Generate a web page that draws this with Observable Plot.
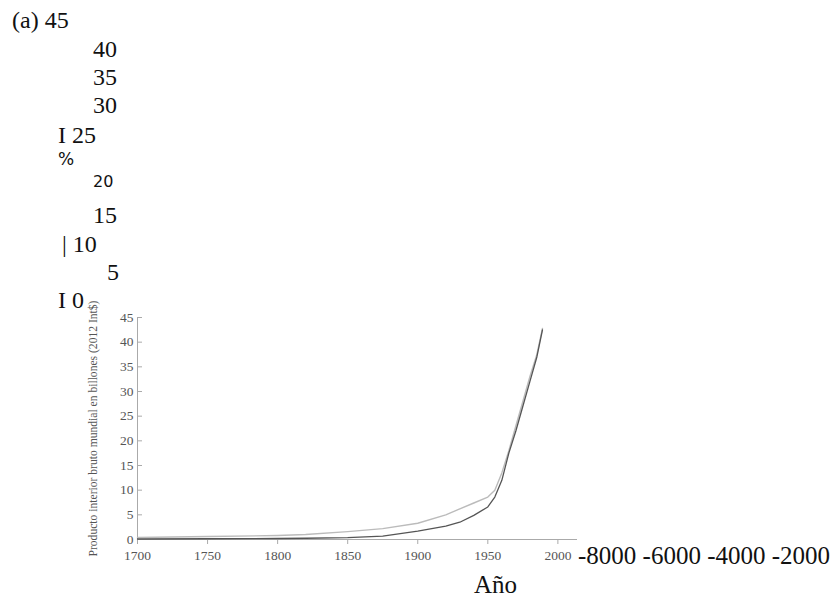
<!DOCTYPE html>
<html><head><meta charset="utf-8">
<script src="https://cdn.jsdelivr.net/npm/d3@7"></script>
<script src="https://cdn.jsdelivr.net/npm/@observablehq/plot@0.6"></script>
<style>
body{margin:0;background:#fff;}
#wrap{position:relative;width:835px;height:597px;}
.ov{position:absolute;color:#111;white-space:pre;line-height:1;}
</style></head><body><div id="wrap"></div>
<script>
// ---- data ----
const years    = [1700,1750,1800,1820,1850,1875,1900,1920,1930,1940,1950,1955,1960,1965,1970,1975,1980,1985,1989];
const darkGDP  = [0.1,0.15,0.2,0.25,0.4,0.7,1.7,2.7,3.5,4.9,6.6,8.6,12,17.5,22,27,32,37,42.5];
const lightGDP = [0.4,0.6,0.8,1.0,1.6,2.2,3.3,5.0,6.2,7.4,8.6,10,13.5,18,23,28,33,37.5,42.8];
const xTicks = [1700,1750,1800,1850,1900,1950,2000];
const yTicks = [0,5,10,15,20,25,30,35,40,45];
const yLabel = "Producto interior bruto mundial en billones (2012 Int$)";
const ghostLabels = ["(a) 45","40","35","30","I 25","%","20","15","| 10","5","I 0"];
const ghostXTicks = ["-8000","-6000","-4000","-2000"];
const xTitle = "Año";

// ---- layout of the overlaid page text: [left, baseline, fontSize, family] ----
const serif = '"Liberation Serif", serif', sans = '"DejaVu Sans", sans-serif';
const ghostLayout = [
  [12,28,24,serif],[93,57,24,serif],[93,85,24,serif],[93,113,24,serif],
  [58,143,24,serif],[58,165,17,sans],[93,188,16,sans],[93,223,24,serif],
  [62,252,24,serif],[107,280,24,serif],[58,308,24,serif]
];
const ghostXLayout = [578,564,25,serif];
const titleLayout = [474,593,25,serif];

const rows = years.map((year,i)=>({year, dark: darkGDP[i], light: lightGDP[i]}));

const chart = Plot.plot({
  width:835, height:597,
  marginLeft:137, marginRight:258, marginTop:317, marginBottom:58,
  x:{domain:[1700,2014]}, y:{domain:[0,45]},
  style:{fontFamily:"Liberation Serif", fontSize:"13px", color:"#555", background:"transparent"},
  marks:[
    Plot.ruleY([0], {stroke:"#aaa"}),
    Plot.ruleX([1700], {stroke:"#aaa"}),
    Plot.axisX({ticks:xTicks, tickSize:5, tickPadding:6, fontSize:13.5, tickFormat:d=>String(d), label:null, stroke:"#aaa", fill:"#555"}),
    Plot.axisY({ticks:yTicks, tickSize:0, tickPadding:4, fontSize:13.5, label:null, fill:"#555"}),
    Plot.axisY({ticks:yTicks, tickSize:-5, tickFormat:()=>"", label:null, stroke:"#aaa"}),
    Plot.axisY({ticks:[], tickSize:0, label:yLabel, labelAnchor:"center", labelOffset:49, labelArrow:"none", fontSize:11.6, fill:"#555"}),
    Plot.lineY(rows,{x:"year", y:"light", stroke:"#bbb", strokeWidth:1.4}),
    Plot.lineY(rows,{x:"year", y:"dark", stroke:"#555", strokeWidth:1.3})
  ]
});
const wrap = document.getElementById("wrap");
wrap.appendChild(chart);

function addText(txt, [left, baseline, fs, fam]) {
  const d = document.createElement("div");
  d.className = "ov";
  d.textContent = txt;
  const k = fam === sans ? 0.846 : 0.8375;
  d.style.left = left + "px";
  d.style.top = (baseline - k*fs) + "px";
  d.style.fontSize = fs + "px";
  d.style.fontFamily = fam;
  wrap.appendChild(d);
}
ghostLabels.forEach((t,i)=>addText(t, ghostLayout[i]));
addText(ghostXTicks.join(" "), ghostXLayout);
addText(xTitle, titleLayout);
</script></body></html>
